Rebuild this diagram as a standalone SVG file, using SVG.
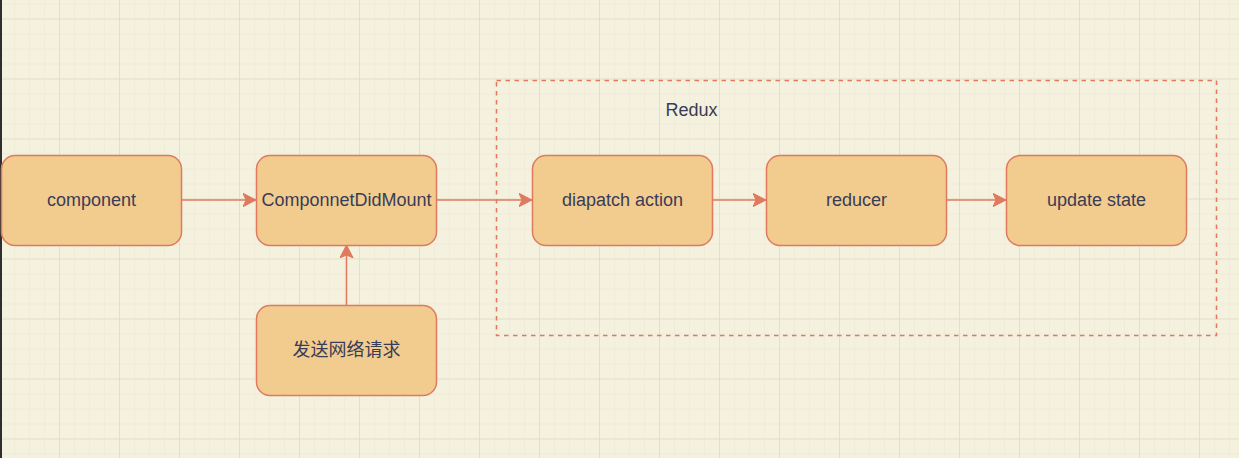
<svg xmlns="http://www.w3.org/2000/svg" width="1239" height="458" viewBox="0 0 1239 458">
<defs>
<pattern id="minor" x="0" y="4.5" width="15" height="15" patternUnits="userSpaceOnUse">
<path d="M15 0V15M0 15H15" fill="none" stroke="#ebe7d3" stroke-width="1"/>
</pattern>
<pattern id="major" x="0" y="19.5" width="60" height="60" patternUnits="userSpaceOnUse">
<path d="M60 0V60M0 60H60" fill="none" stroke="#d8d3bd" stroke-width="1"/>
</pattern>
<marker id="arr" viewBox="0 0 14 14" refX="13" refY="7" markerWidth="14" markerHeight="14" markerUnits="userSpaceOnUse" orient="auto">
<path d="M0 0.3L13 7L0 13.7L3 7Z" fill="#e07a5f" stroke="#e07a5f" stroke-width="1"/>
</marker>
<style>
.box{fill:#f2cc8f;stroke:#e07a5f;stroke-width:1.5}
.t{font-family:"Liberation Sans",Arial,"Noto Sans CJK SC",sans-serif;font-size:18px;fill:#393c56;text-anchor:middle}
.c{stroke:#e07a5f;stroke-width:1.5;fill:none;marker-end:url(#arr)}
</style>
</defs>
<rect width="1239" height="458" fill="#f4f1de"/>
<rect width="1239" height="458" fill="url(#minor)"/>
<rect width="1239" height="458" fill="url(#major)"/>
<rect x="0" y="0" width="2" height="458" fill="#2f2f2f"/>
<g id="redux">
<rect x="496.5" y="80.5" width="720" height="255" fill="none" stroke="#e07a5f" stroke-width="1.5" stroke-dasharray="4.5 4.5"/>
<text class="t" x="691.5" y="116">Redux</text>
</g>
<g id="connectors">
<path class="c" d="M181 200H256"/>
<path class="c" d="M436 200H532"/>
<path class="c" d="M712 200H766"/>
<path class="c" d="M946 200H1006"/>
<path class="c" d="M346.5 305V245"/>
</g>
<g id="component">
<rect class="box" x="1.5" y="155.5" width="180" height="90" rx="13.5"/>
<text class="t" x="91.5" y="205.5">component</text>
</g>
<g id="didmount">
<rect class="box" x="256.5" y="155.5" width="180" height="90" rx="13.5"/>
<text class="t" x="346.5" y="205.5">ComponnetDidMount</text>
</g>
<g id="request">
<rect class="box" x="256.5" y="305.5" width="180" height="90" rx="13.5"/>
<text class="t" x="346.5" y="356">发送网络请求</text>
</g>
<g id="dispatch">
<rect class="box" x="532.5" y="155.5" width="180" height="90" rx="13.5"/>
<text class="t" x="622.5" y="205.5">diapatch action</text>
</g>
<g id="reducer">
<rect class="box" x="766.5" y="155.5" width="180" height="90" rx="13.5"/>
<text class="t" x="856.5" y="205.5">reducer</text>
</g>
<g id="update">
<rect class="box" x="1006.5" y="155.5" width="180" height="90" rx="13.5"/>
<text class="t" x="1096.5" y="205.5">update state</text>
</g>
</svg>
